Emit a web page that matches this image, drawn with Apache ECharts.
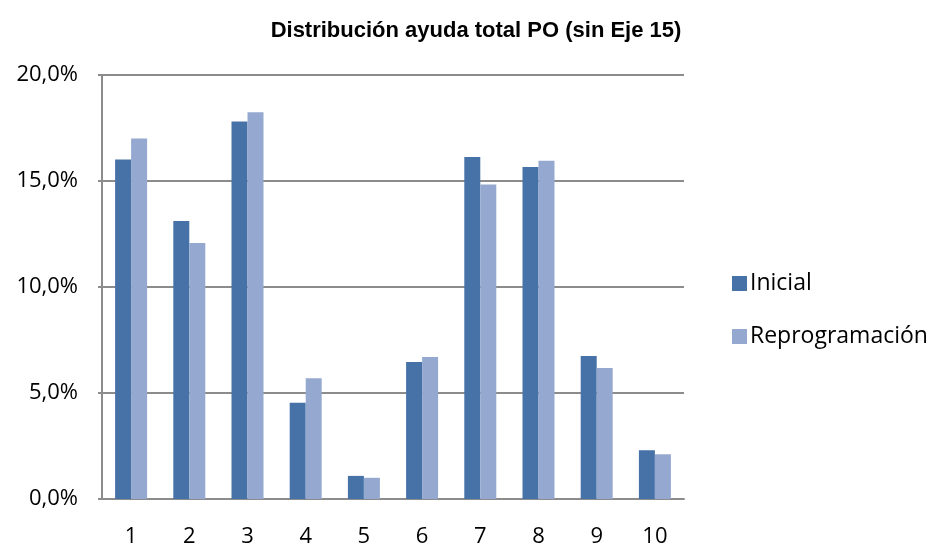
<!DOCTYPE html>
<html><head><meta charset="utf-8">
<script src="https://cdn.jsdelivr.net/npm/echarts@6/dist/echarts.min.js"></script>
<style>html,body{margin:0;padding:0;background:#fff}#c{width:930px;height:544px}</style>
</head><body><div id="c"></div>
<script>
const categories = ['1','2','3','4','5','6','7','8','9','10'];
const inicial = [16.02, 13.11, 17.81, 4.54, 1.09, 6.46, 16.13, 15.66, 6.75, 2.30];
const reprogramacion = [17.01, 12.08, 18.24, 5.70, 1.00, 6.70, 14.84, 15.96, 6.18, 2.11];
const seriesNames = ['Inicial', 'Reprogramación'];
const titleText = 'Distribución ayuda total PO (sin Eje 15)';

const chart = echarts.init(document.getElementById('c'));
const font = '"Open Sans", "Noto Sans", sans-serif';
chart.setOption({
  animation: false,
  title: {
    text: titleText, left: 471, top: 15, textAlign: 'center',
    textStyle: { fontFamily: '"Liberation Sans", Arial, sans-serif', fontWeight: 'bold', fontSize: 22, color: '#000' }
  },
  legend: {
    orient: 'vertical', left: 727, top: 267, itemWidth: 15, itemHeight: 15, itemGap: 30,
    icon: 'rect',
    textStyle: { fontFamily: font, fontSize: 23, color: '#000', padding: [0,0,0,-2] },
    data: seriesNames
  },
  grid: { left: 102, right: 246, top: 75, bottom: 45, containLabel: false, outerBoundsMode: 'none' },
  xAxis: {
    type: 'category', data: categories,
    axisLine: { lineStyle: { color: '#8c8c8c', width: 2 } },
    axisTick: { show: false },
    axisLabel: { fontFamily: font, fontSize: 22, color: '#000', margin: 27 }
  },
  yAxis: {
    type: 'value', min: 0, max: 20, interval: 5,
    axisLine: { show: true, lineStyle: { color: '#8c8c8c', width: 2 } },
    axisTick: { show: true, length: 4, lineStyle: { color: '#8c8c8c', width: 2 } },
    splitLine: { lineStyle: { color: '#8c8c8c', width: 2 } },
    axisLabel: { fontFamily: font, fontSize: 22, color: '#000', margin: 24,
      formatter: v => v.toFixed(1).replace('.', ',') + '%' }
  },
  series: [
    { name: seriesNames[0], type: 'bar', data: inicial, barWidth: 16, barGap: '0%',
      itemStyle: { color: '#4672a8' } },
    { name: seriesNames[1], type: 'bar', data: reprogramacion, barWidth: 16,
      itemStyle: { color: '#95a9d0' } }
  ]
});
</script></body></html>
